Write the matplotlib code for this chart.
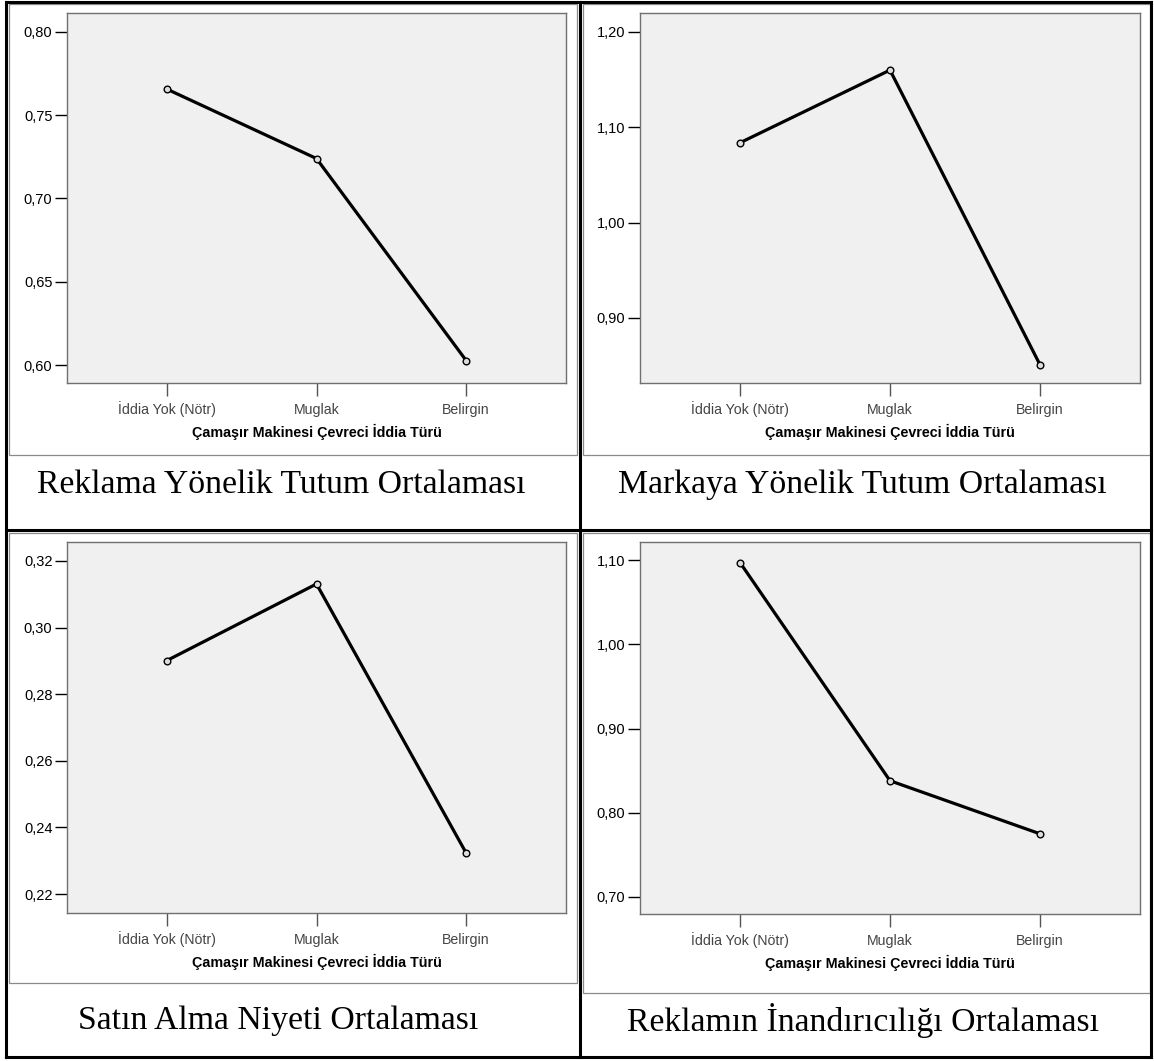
import matplotlib
matplotlib.use("Agg")
import matplotlib.pyplot as plt
from matplotlib.ticker import FixedLocator, FuncFormatter
from matplotlib.lines import Line2D

# ---- data ----
categories = ["İddia Yok (Nötr)", "Muglak", "Belirgin"]
xlabel = "Çamaşır Makinesi Çevreci İddia Türü"

captions = ["Reklama Yönelik Tutum Ortalaması",
            "Markaya Yönelik Tutum Ortalaması",
            "Satın Alma Niyeti Ortalaması",
            "Reklamın İnandırıcılığı Ortalaması"]

reklam_tutum = [0.7657, 0.724, 0.6027]
marka_tutum = [1.0838, 1.160, 0.851]
satin_alma = [0.2901, 0.3131, 0.2323]
inandiricilik = [1.097, 0.838, 0.775]

yticks_reklam = [0.60, 0.65, 0.70, 0.75, 0.80]
yticks_marka = [0.90, 1.00, 1.10, 1.20]
yticks_satin = [0.22, 0.24, 0.26, 0.28, 0.30, 0.32]
yticks_inand = [0.70, 0.80, 0.90, 1.00, 1.10]

ylims = [(0.5892, 0.8114), (0.8318, 1.2199), (0.2143, 0.3257), (0.6798, 1.1214)]

series = [reklam_tutum, marka_tutum, satin_alma, inandiricilik]
yticks = [yticks_reklam, yticks_marka, yticks_satin, yticks_inand]

# ---- layout (pixels) ----
W, H = 1154, 1061
fig = plt.figure(figsize=(W / 100, H / 100), dpi=100)
fig.patch.set_facecolor("white")

def rect(l, t, r, b):
    return [l / W, 1 - b / H, (r - l) / W, (b - t) / H]

axes_px = [(67, 13, 566, 383), (640, 13, 1140, 383),
           (67, 542, 566, 913), (640, 542, 1140, 914)]
caption_pos = [(281, 485), (862, 485), (278, 1021), (863, 1021)]
frames_px = [(9, 4, 577, 455), (583, 4, 1150, 455),
             (9, 533, 577, 983), (583, 533, 1150, 993)]

def fmt(v, pos):
    return f"{v:.2f}".replace(".", ",")

TICKLEN = 9.0  # points
for i in range(4):
    # chart image frame
    l, t, r, b = frames_px[i]
    fig.add_artist(plt.Rectangle((l / W, 1 - b / H), (r - l) / W, (b - t) / H,
                                 transform=fig.transFigure, fill=False,
                                 edgecolor="#8a8a8a", linewidth=0.9))
    ax = fig.add_axes(rect(*axes_px[i]))
    ax.set_facecolor("#f0f0f0")
    x = list(range(len(categories)))
    ax.plot(x, series[i], color="black", linewidth=2.3, zorder=3)
    ax.plot(x, series[i], linestyle="none", marker="o", markersize=4.8,
            markerfacecolor="#dcdcdc", markeredgecolor="black",
            markeredgewidth=1.0, zorder=4)
    ax.set_xlim(-0.667, 2.667)
    ax.set_ylim(*ylims[i])
    ax.xaxis.set_major_locator(FixedLocator(x))
    ax.set_xticklabels(categories, fontsize=10.2, color="#444444",
                       family="Liberation Sans", va="baseline")
    ax.yaxis.set_major_locator(FixedLocator(yticks[i]))
    ax.yaxis.set_major_formatter(FuncFormatter(fmt))
    for lab in ax.get_yticklabels():
        lab.set_fontfamily("Liberation Sans")
        lab.set_fontsize(10.5)
    ax.tick_params(axis="y", length=TICKLEN, width=1.0, color="black", pad=1.5)
    ax.tick_params(axis="x", length=TICKLEN, width=1.0, color="#555555",
                   pad=(31 * 0.72 - TICKLEN))
    ax.set_xlabel(xlabel, fontsize=10.3, fontweight="bold",
                  family="Liberation Sans", labelpad=5)
    for s in ax.spines.values():
        s.set_color("#707070")
        s.set_linewidth(1.0)
    cx, cy = caption_pos[i]
    fig.text(cx / W, 1 - cy / H, captions[i], ha="center", va="center",
             fontsize=24.3, family="Liberation Serif", color="black")

# ---- table lines ----
def line(x0, y0, x1, y1, lw=2.2):
    fig.add_artist(Line2D([x0 / W, x1 / W], [1 - y0 / H, 1 - y1 / H],
                          transform=fig.transFigure, color="black",
                          linewidth=lw, solid_capstyle="projecting"))

line(6, 2, 1151, 2)
line(6, 1057, 1151, 1057)
line(6, 2, 6, 1057)
line(1151, 2, 1151, 1057)
line(580, 2, 580, 1057)
line(6, 530, 1151, 530)

fig.savefig("out.png", dpi=100)
